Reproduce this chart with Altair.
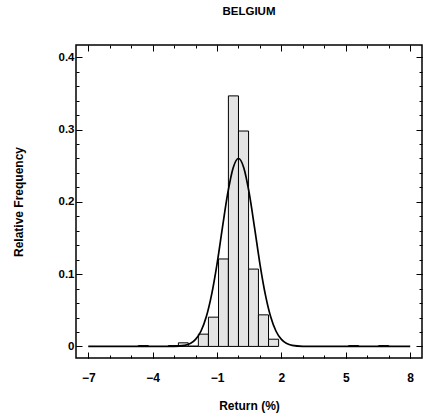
import altair as alt
import pandas as pd

# Histogram bins (Return %, left/right edges) and relative frequencies
bin_start = [-4.67, -3.27, -2.80, -2.34, -1.87, -1.40, -0.93, -0.47, 0.00, 0.47, 0.93, 1.40, 5.13, 6.53]
bin_end   = [-4.20, -2.80, -2.34, -1.87, -1.40, -0.93, -0.47, 0.00, 0.47, 0.93, 1.40, 1.87, 5.60, 7.00]
rel_freq  = [0.0012, 0.0012, 0.005, 0.0005, 0.017, 0.0405, 0.121, 0.3466, 0.298, 0.107, 0.0437, 0.010, 0.0012, 0.0012]

# Fitted normal curve
curve_x = [-7, -3.5, -3, -2.5, -2, -1.75, -1.5, -1.25, -1, -0.75, -0.5, -0.25, 0,
           0.25, 0.5, 0.75, 1, 1.25, 1.5, 1.75, 2, 2.5, 3, 3.5, 8]
curve_y = [0.0, 0.0, 0.0002, 0.0015, 0.0097, 0.021, 0.041, 0.072, 0.114, 0.164, 0.212, 0.247, 0.26,
           0.247, 0.212, 0.164, 0.114, 0.072, 0.041, 0.021, 0.0097, 0.0015, 0.0002, 0.0, 0.0]

x_major = [-7, -4, -1, 2, 5, 8]
x_minor = list(range(-7, 9))
y_major = [0, 0.1, 0.2, 0.3, 0.4]
y_minor = [round(i * 0.02, 2) for i in range(21)]

bars = pd.DataFrame({"start": bin_start, "end": bin_end, "freq": rel_freq})
curve = pd.DataFrame({"ret": curve_x, "dens": curve_y})

FONT = "Liberation Sans"
xs = alt.Scale(domain=[-7.57, 8.55], nice=False, zero=False)
ys = alt.Scale(domain=[-0.016, 0.417], nice=False, zero=False)

common = dict(domain=False, grid=False, tickColor="black", tickWidth=1,
              labelFont=FONT, labelFontWeight="bold", labelColor="black",
              titleFont=FONT, titleFontWeight="bold", titleFontSize=12, titleColor="black")

ax_bottom_major = alt.Axis(orient="bottom", values=x_major, tickSize=6, offset=-6,
                           labelPadding=14, labelFontSize=12,
                           title="Return (%)", titlePadding=17, **common)
ax_bottom_minor = alt.Axis(orient="bottom", values=x_minor, tickSize=3, offset=-3,
                           labels=False, title=None, **common)
ax_top_major = alt.Axis(orient="top", values=x_major, tickSize=6, offset=-6,
                        labels=False, title=None, **common)
ax_top_minor = alt.Axis(orient="top", values=x_minor, tickSize=3, offset=-3,
                        labels=False, title=None, **common)

ax_left_major = alt.Axis(orient="left", values=y_major, tickSize=6, offset=-6,
                         labelPadding=2, labelFontSize=11.5,
                         title="Relative Frequency", titlePadding=33,
                         labelExpr="datum.value == 0 ? '0' : format(datum.value, '.1f')",
                         **common)
ax_left_minor = alt.Axis(orient="left", values=y_minor, tickSize=3, offset=-3,
                         labels=False, title=None, **common)
ax_right_major = alt.Axis(orient="right", values=y_major, tickSize=6, offset=-6,
                          labels=False, title=None, **common)
ax_right_minor = alt.Axis(orient="right", values=y_minor, tickSize=3, offset=-3,
                          labels=False, title=None, **common)

bar_layer = alt.Chart(bars).mark_rect(fill="#e4e4e4", stroke="black", strokeWidth=1).encode(
    x=alt.X("start:Q", scale=xs, axis=ax_bottom_major),
    x2="end:Q",
    y=alt.Y("freq:Q", scale=ys, axis=ax_left_major),
    y2=alt.datum(0),
)

curve_layer = alt.Chart(curve).mark_line(color="black", strokeWidth=1.7, interpolate="monotone").encode(
    x=alt.X("ret:Q", scale=xs, axis=ax_bottom_minor),
    y=alt.Y("dens:Q", scale=ys, axis=ax_left_minor),
)

ghost1 = alt.Chart(curve).mark_line(strokeOpacity=0).encode(
    x=alt.X("ret:Q", scale=xs, axis=ax_top_major),
    y=alt.Y("dens:Q", scale=ys, axis=ax_right_major),
)
ghost2 = alt.Chart(curve).mark_line(strokeOpacity=0).encode(
    x=alt.X("ret:Q", scale=xs, axis=ax_top_minor),
    y=alt.Y("dens:Q", scale=ys, axis=ax_right_minor),
)

chart = alt.layer(bar_layer, curve_layer, ghost1, ghost2).resolve_axis(
    x="independent", y="independent"
).properties(
    width=346,
    height=313,
    title=alt.TitleParams("BELGIUM", font=FONT, fontWeight="bold", fontSize=11.5,
                          color="black", anchor="middle", offset=27),
    autosize=alt.AutoSizeParams(type="none"),
    padding={"left": 76, "top": 45, "right": 6, "bottom": 56},
    background="white",
).configure_view(stroke="black", strokeWidth=1.5)

chart.save("out.html", embed_options={"renderer": "svg", "actions": False})
